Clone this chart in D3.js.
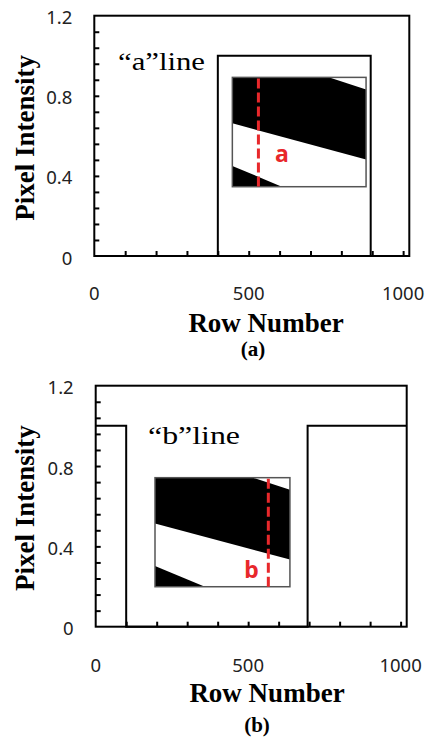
<!DOCTYPE html>
<html>
<head>
<meta charset="utf-8">
<script src="https://cdn.jsdelivr.net/npm/d3@7"></script>
<style>
  html, body { margin: 0; padding: 0; background: #fff; }
  svg { display: block; }
</style>
</head>
<body>
<svg id="fig" width="428" height="740"></svg>
<script>
// Axis tick labels
const rowTickLabels = [0, 500, 1000];
const intensityTickLabels = [0, 0.4, 0.8, 1.2];
const rowMinorStep = 100;
const intensityMinorStep = 0.08;
const rowMax = 1020;

// Intensity profile along the "a" line
const rowsA = [0, 400, 400, 895, 895, 1020];
const intensityA = [0, 0, 1, 1, 0, 0];

// Intensity profile along the "b" line
const rowsB = [0, 100, 100, 695, 695, 1020];
const intensityB = [1, 1, 0, 0, 1, 1];

// Stripe pattern of the sample image (fractions of its width / height)
const stripeBandU = [0, 0.726, 1, 1, 0];
const stripeBandV = [0, 0, 0.11, 0.75, 0.42];
const cornerU = [0, 0.37, 0];
const cornerV = [0.81, 1, 1];

const svg = d3.select("#fig");
const serif = "'Liberation Serif', 'Times New Roman', serif";
const sans = "'Noto Sans', 'Open Sans', sans-serif";
const red = "#e8282b";

function drawPanel(p) {
  const x = d3.scaleLinear().domain([0, rowMax]).range([p.left, p.right]);
  const y = d3.scaleLinear().domain([0, 1.2]).range([p.bottom, p.top]);
  const g = svg.append("g");

  // inward minor ticks on the bottom and left axes
  const xAxis = d3.axisTop(x)
    .tickValues(d3.range(rowMinorStep, rowMax, rowMinorStep))
    .tickSize(5).tickFormat("");
  g.append("g").attr("transform", `translate(0,${p.bottom})`).call(xAxis)
    .call(a => a.select(".domain").remove())
    .call(a => a.selectAll("line").attr("stroke", "#000").attr("stroke-width", 2));

  const yAxis = d3.axisRight(y)
    .tickValues(d3.range(intensityMinorStep, 1.2, intensityMinorStep))
    .tickSize(5).tickFormat("");
  g.append("g").attr("transform", `translate(${p.left},0)`).call(yAxis)
    .call(a => a.select(".domain").remove())
    .call(a => a.selectAll("line").attr("stroke", "#000").attr("stroke-width", 2));

  // tick labels
  g.selectAll(".xl").data(rowTickLabels).join("text")
    .attr("x", d => x(d)).attr("y", p.bottom + p.xLabelDy)
    .attr("text-anchor", "middle").attr("dominant-baseline", "central")
    .attr("font-family", sans).attr("font-size", 18.5).attr("fill", "#222")
    .text(d => d);
  g.selectAll(".yl").data(intensityTickLabels).join("text")
    .attr("x", p.left - 22).attr("y", d => y(d) + 1)
    .attr("text-anchor", "end").attr("dominant-baseline", "central")
    .attr("font-family", sans).attr("font-size", 18.5).attr("fill", "#222")
    .text(d => d === 0 ? "0" : d3.format(".1f")(d));

  // intensity profile
  const line = d3.line().x(d => x(d[0])).y(d => y(d[1]));
  g.append("path")
    .datum(p.rows.map((r, i) => [r, p.values[i]]))
    .attr("d", line).attr("fill", "none")
    .attr("stroke", "#000").attr("stroke-width", 2);

  // plot frame
  g.append("rect")
    .attr("x", p.left).attr("y", p.top)
    .attr("width", p.right - p.left).attr("height", p.bottom - p.top)
    .attr("fill", "none").attr("stroke", "#000").attr("stroke-width", 2);

  // line name
  g.append("text")
    .attr("x", p.nameX).attr("y", p.nameY)
    .attr("font-family", serif).attr("font-size", 25)
    .attr("textLength", p.nameWidth).attr("lengthAdjust", "spacingAndGlyphs")
    .text(p.name);

  // sample image inset with the scanned line
  const ix0 = x(p.inset[0]), ix1 = x(p.inset[1]);
  const iy0 = y(p.inset[2]), iy1 = y(p.inset[3]);
  const u = d3.scaleLinear().range([ix0, ix1]);
  const v = d3.scaleLinear().range([iy0, iy1]);
  const inset = g.append("g");
  inset.append("rect").attr("x", ix0).attr("y", iy0)
    .attr("width", ix1 - ix0).attr("height", iy1 - iy0).attr("fill", "#fff");
  const poly = (us, vs) => us.map((d, i) => [u(d), v(vs[i])].join(",")).join(" ");
  inset.append("polygon").attr("points", poly(stripeBandU, stripeBandV)).attr("fill", "#000");
  inset.append("polygon").attr("points", poly(cornerU, cornerV)).attr("fill", "#000");
  inset.append("rect").attr("x", ix0).attr("y", iy0)
    .attr("width", ix1 - ix0).attr("height", iy1 - iy0)
    .attr("fill", "none").attr("stroke", "#555").attr("stroke-width", 1.5);
  inset.append("line")
    .attr("x1", u(p.probeU)).attr("x2", u(p.probeU))
    .attr("y1", v(0) + 1).attr("y2", v(1))
    .attr("stroke", red).attr("stroke-width", 3).attr("stroke-dasharray", "10,4");
  inset.append("text")
    .attr("x", u(p.markU)).attr("y", v(p.markV))
    .attr("text-anchor", "middle")
    .attr("font-family", sans).attr("font-weight", "bold").attr("font-size", 23)
    .attr("fill", red).text(p.mark);

  // axis titles and caption
  g.append("text")
    .attr("transform", `translate(${p.yTitleX},${(p.top + p.bottom) / 2 + 2}) rotate(-90)`)
    .attr("text-anchor", "middle")
    .attr("font-family", serif).attr("font-weight", "bold").attr("font-size", 27)
    .text("Pixel Intensity");
  g.append("text")
    .attr("x", p.xTitleX).attr("y", p.xTitleY)
    .attr("text-anchor", "middle")
    .attr("font-family", serif).attr("font-weight", "bold").attr("font-size", 27)
    .text("Row Number");
  g.append("text")
    .attr("x", p.captionX).attr("y", p.captionY)
    .attr("text-anchor", "middle")
    .attr("font-family", serif).attr("font-weight", "bold").attr("font-size", 21)
    .text(p.caption);
}

drawPanel({
  left: 94.3, right: 409.3, top: 15.7, bottom: 256,
  rows: rowsA, values: intensityA,
  name: "\u201ca\u201dline", nameX: 118, nameY: 70, nameWidth: 87,
  inset: [447, 880, 0.892, 0.346], probeU: 0.195, mark: "a", markU: 0.37, markV: 0.77,
  xLabelDy: 36, yTitleX: 34, xTitleX: 266, xTitleY: 331.5,
  caption: "(a)", captionX: 253, captionY: 356
});

drawPanel({
  left: 95.7, right: 406.7, top: 385.7, bottom: 626.7,
  rows: rowsB, values: intensityB,
  name: "\u201cb\u201dline", nameX: 148, nameY: 444, nameWidth: 92,
  inset: [194.5, 637, 0.742, 0.199], probeU: 0.84, mark: "b", markU: 0.716, markV: 0.92,
  xLabelDy: 38, yTitleX: 34, xTitleX: 267, xTitleY: 701.5,
  caption: "(b)", captionX: 257, captionY: 731.5
});
</script>
</body>
</html>
